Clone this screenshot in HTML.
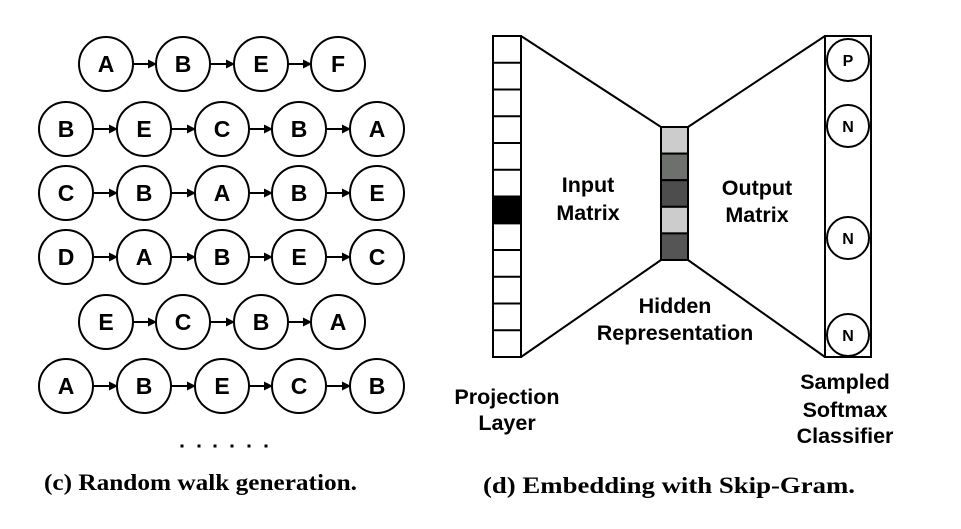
<!DOCTYPE html>
<html><head><meta charset="utf-8"><style>
html,body{margin:0;padding:0;background:#fff;}
svg{display:block;}
.n{font-family:"Liberation Sans",sans-serif;font-weight:bold;font-size:23px;text-anchor:middle;}
.l{font-family:"Liberation Sans",sans-serif;font-weight:bold;font-size:21.5px;text-anchor:middle;}
.s{font-family:"Liberation Sans",sans-serif;font-weight:bold;font-size:16px;text-anchor:middle;}
.c{font-family:"Liberation Serif",serif;font-weight:bold;font-size:23px;}
</style></head><body>
<svg width="961" height="529" viewBox="0 0 961 529" xmlns="http://www.w3.org/2000/svg">
<defs><marker id="ah" markerWidth="9" markerHeight="9" refX="8" refY="4.5" orient="auto" markerUnits="userSpaceOnUse"><path d="M0,0 L9,4.5 L0,9 z" fill="#000"/></marker></defs>
<g fill="none" stroke="#000" stroke-width="2">
<circle cx="106" cy="64" r="27"/><circle cx="183" cy="64" r="27"/><circle cx="261" cy="64" r="27"/><circle cx="338" cy="64" r="27"/>
<line x1="133" y1="64" x2="156" y2="64" marker-end="url(#ah)"/><line x1="210" y1="64" x2="234" y2="64" marker-end="url(#ah)"/><line x1="288" y1="64" x2="311" y2="64" marker-end="url(#ah)"/>
<circle cx="66" cy="129" r="27"/><circle cx="144" cy="129" r="27"/><circle cx="222" cy="129" r="27"/><circle cx="299" cy="129" r="27"/><circle cx="377" cy="129" r="27"/>
<line x1="93" y1="129" x2="117" y2="129" marker-end="url(#ah)"/><line x1="171" y1="129" x2="195" y2="129" marker-end="url(#ah)"/><line x1="249" y1="129" x2="272" y2="129" marker-end="url(#ah)"/><line x1="326" y1="129" x2="350" y2="129" marker-end="url(#ah)"/>
<circle cx="66" cy="193" r="27"/><circle cx="144" cy="193" r="27"/><circle cx="222" cy="193" r="27"/><circle cx="299" cy="193" r="27"/><circle cx="377" cy="193" r="27"/>
<line x1="93" y1="193" x2="117" y2="193" marker-end="url(#ah)"/><line x1="171" y1="193" x2="195" y2="193" marker-end="url(#ah)"/><line x1="249" y1="193" x2="272" y2="193" marker-end="url(#ah)"/><line x1="326" y1="193" x2="350" y2="193" marker-end="url(#ah)"/>
<circle cx="66" cy="257" r="27"/><circle cx="144" cy="257" r="27"/><circle cx="222" cy="257" r="27"/><circle cx="299" cy="257" r="27"/><circle cx="377" cy="257" r="27"/>
<line x1="93" y1="257" x2="117" y2="257" marker-end="url(#ah)"/><line x1="171" y1="257" x2="195" y2="257" marker-end="url(#ah)"/><line x1="249" y1="257" x2="272" y2="257" marker-end="url(#ah)"/><line x1="326" y1="257" x2="350" y2="257" marker-end="url(#ah)"/>
<circle cx="106" cy="322" r="27"/><circle cx="183" cy="322" r="27"/><circle cx="261" cy="322" r="27"/><circle cx="338" cy="322" r="27"/>
<line x1="133" y1="322" x2="156" y2="322" marker-end="url(#ah)"/><line x1="210" y1="322" x2="234" y2="322" marker-end="url(#ah)"/><line x1="288" y1="322" x2="311" y2="322" marker-end="url(#ah)"/>
<circle cx="66" cy="386" r="27"/><circle cx="144" cy="386" r="27"/><circle cx="222" cy="386" r="27"/><circle cx="299" cy="386" r="27"/><circle cx="377" cy="386" r="27"/>
<line x1="93" y1="386" x2="117" y2="386" marker-end="url(#ah)"/><line x1="171" y1="386" x2="195" y2="386" marker-end="url(#ah)"/><line x1="249" y1="386" x2="272" y2="386" marker-end="url(#ah)"/><line x1="326" y1="386" x2="350" y2="386" marker-end="url(#ah)"/>
</g>
<g class="n">
<text x="106" y="72">A</text><text x="183" y="72">B</text><text x="261" y="72">E</text><text x="338" y="72">F</text>
<text x="66" y="137">B</text><text x="144" y="137">E</text><text x="222" y="137">C</text><text x="299" y="137">B</text><text x="377" y="137">A</text>
<text x="66" y="201">C</text><text x="144" y="201">B</text><text x="222" y="201">A</text><text x="299" y="201">B</text><text x="377" y="201">E</text>
<text x="66" y="265">D</text><text x="144" y="265">A</text><text x="222" y="265">B</text><text x="299" y="265">E</text><text x="377" y="265">C</text>
<text x="106" y="330">E</text><text x="183" y="330">C</text><text x="261" y="330">B</text><text x="338" y="330">A</text>
<text x="66" y="394">A</text><text x="144" y="394">B</text><text x="222" y="394">E</text><text x="299" y="394">C</text><text x="377" y="394">B</text>
</g>
<g fill="#000">
<rect x="180.5" y="444.5" width="3" height="3"/><rect x="197.5" y="444.5" width="3" height="3"/><rect x="213.5" y="444.5" width="3" height="3"/><rect x="230.5" y="444.5" width="3" height="3"/><rect x="247.5" y="444.5" width="3" height="3"/><rect x="264.5" y="444.5" width="3" height="3"/>
</g>
<text class="c" x="44" y="490" textLength="313" lengthAdjust="spacingAndGlyphs">(c) Random walk generation.</text>
<text class="c" x="483" y="493" textLength="372" lengthAdjust="spacingAndGlyphs">(d) Embedding with Skip-Gram.</text>

<g stroke="#000" stroke-width="2" fill="none">
<line x1="521" y1="36" x2="661" y2="127"/><line x1="521" y1="357" x2="661" y2="260"/>
<line x1="688" y1="127" x2="825" y2="36"/><line x1="688" y1="260" x2="825" y2="357"/>
<rect x="493" y="36" width="28" height="321" fill="#fff"/>
<path d="M493,62.75h28M493,89.5h28M493,116.25h28M493,143h28M493,169.75h28M493,196.5h28M493,223.25h28M493,250h28M493,276.75h28M493,303.5h28M493,330.25h28"/>
<rect x="493" y="196.5" width="28" height="26.75" fill="#000"/>
<rect x="661" y="127" width="27" height="26.6" fill="#cccccc"/>
<rect x="661" y="153.6" width="27" height="26.6" fill="#6e706e"/>
<rect x="661" y="180.2" width="27" height="26.6" fill="#4d4d4d"/>
<rect x="661" y="206.8" width="27" height="26.6" fill="#cccccc"/>
<rect x="661" y="233.4" width="27" height="26.6" fill="#555555"/>
<rect x="825" y="36" width="46" height="321"/>
<circle cx="848" cy="60" r="21"/><circle cx="848" cy="126" r="21"/><circle cx="848" cy="238" r="21"/><circle cx="848" cy="335" r="21"/>
</g>
<g class="s">
<text x="848" y="66">P</text><text x="848" y="132">N</text><text x="848" y="244">N</text><text x="848" y="341">N</text>
</g>
<g class="l">
<text x="588" y="192">Input</text><text x="588" y="220">Matrix</text>
<text x="757" y="195">Output</text><text x="757" y="222">Matrix</text>
<text x="675" y="313">Hidden</text><text x="675" y="340">Representation</text>
<text x="507" y="404">Projection</text><text x="507" y="430">Layer</text>
<text x="845" y="389">Sampled</text><text x="845" y="417">Softmax</text><text x="845" y="443">Classifier</text>
</g>
</svg>
</body></html>
